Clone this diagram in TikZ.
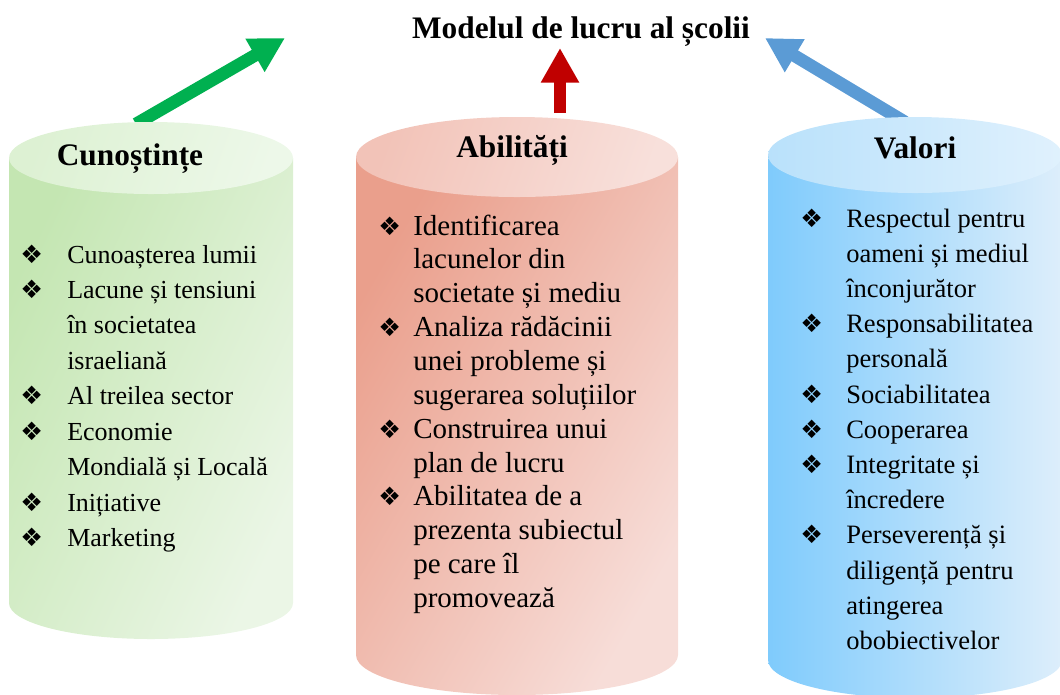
\documentclass[tikz,border=0pt]{standalone}
\usepackage{fontspec}
\setmainfont{Liberation Serif}
\newfontfamily\symfont{DejaVu Sans}
\usetikzlibrary{arrows.meta}

\definecolor{cunBodyL}{HTML}{C4E6B2}
\definecolor{cunBodyR}{HTML}{EBF6E6}
\definecolor{cunTopL}{HTML}{DDF1D3}
\definecolor{cunTopR}{HTML}{EDF8E9}
\definecolor{abiBodyL}{HTML}{EA9F8C}
\definecolor{abiBodyR}{HTML}{F7DDD8}
\definecolor{abiTopL}{HTML}{F2C3B8}
\definecolor{abiTopR}{HTML}{F8E0DB}
\definecolor{valBodyL}{HTML}{7FCBFC}
\definecolor{valBodyR}{HTML}{DDEEFB}
\definecolor{valTopL}{HTML}{B9E1FB}
\definecolor{valTopR}{HTML}{E0F1FD}
\definecolor{arrGreen}{HTML}{00B050}
\definecolor{arrRed}{HTML}{C00000}
\definecolor{arrBlue}{HTML}{5B9BD5}

\newcommand{\itm}[1]{\makebox[#1][l]{\symfont\fontsize{19}{19}\selectfont ❖}}
\newcommand{\cnt}[1]{\hspace*{#1}}

\begin{document}
\begin{tikzpicture}[x=0.75pt,y=0.75pt,yscale=-1,
  heading/.style={font=\bfseries\fontsize{23.5}{27}\selectfont, inner sep=0, anchor=base},
  listbox/.style={inner sep=0, anchor=base west},
  fatarrow/.style={line width=9.5pt, -{Triangle[length=26pt,width=27pt]}}]
\useasboundingbox (0,0) rectangle (1060,694);

% Arrows to the title
\coordinate (cunTop) at (136,124);
\coordinate (cunTip) at (285,38);
\coordinate (abiTop) at (560,113);
\coordinate (abiTip) at (560,48);
\coordinate (valTop) at (905,122);
\coordinate (valTip) at (765,38);
\draw[fatarrow, arrGreen] (cunTop) -- (cunTip);
\draw[fatarrow, arrRed] (abiTop) -- (abiTip);
\draw[fatarrow, arrBlue] (valTop) -- (valTip);

%Shape: Cylinder [Cunostinte]
\shade[left color=cunBodyL, right color=cunBodyR, shading angle=65] (9,158) -- (9,603) arc[start angle=180, end angle=0, x radius=142, y radius=36] -- (293,158) -- cycle;
\shade[left color=cunTopL, right color=cunTopR, shading angle=70] (151,158) ellipse [x radius=142, y radius=36];
%Shape: Cylinder [Abilitati]
\shade[left color=abiBodyL, right color=abiBodyR, shading angle=60] (356,157) -- (356,655) arc[start angle=180, end angle=0, x radius=161, y radius=40] -- (678,157) -- cycle;
\shade[left color=abiTopL, right color=abiTopR, shading angle=70] (517,157) ellipse [x radius=161, y radius=40];
%Shape: Cylinder [Valori]
\shade[left color=valBodyL, right color=valBodyR] (768,155) -- (768,660) arc[start angle=180, end angle=0, x radius=147, y radius=38] -- (1062,155) -- cycle;
\shade[left color=valTopL, right color=valTopR] (915,155) ellipse [x radius=147, y radius=38];

% Text Node
\node[font=\bfseries\fontsize{23.5}{27}\selectfont, inner sep=0, anchor=base] (title) at (581,38) {Modelul de lucru al școlii};
% Text Node
\node[heading] (cunHead) at (130,165) {Cunoștințe};
% Text Node
\node[heading] (abiHead) at (512,157) {Abilități};
% Text Node
\node[heading] (valHead) at (915,158) {Valori};

% Text Node
\node[listbox, font=\fontsize{19.5}{26.6}\selectfont] (cunList) at (20,263) {\begin{tabular}[t]{@{}l@{}}
\itm{35.25pt}Cunoașterea lumii\\
\itm{35.25pt}Lacune și tensiuni\\
\cnt{35.25pt}în societatea\\
\cnt{35.25pt}israeliană\\
\itm{35.25pt}Al treilea sector\\
\itm{35.25pt}Economie\\
\cnt{35.25pt}Mondială și Locală\\
\itm{35.25pt}Inițiative\\
\itm{35.25pt}Marketing
\end{tabular}};
% Text Node
\node[listbox, font=\fontsize{21.75}{25.4}\selectfont] (abiList) at (378,235) {\begin{tabular}[t]{@{}l@{}}
\itm{26.25pt}Identificarea\\
\cnt{26.25pt}lacunelor din\\
\cnt{26.25pt}societate și mediu\\
\itm{26.25pt}Analiza rădăcinii\\
\cnt{26.25pt}unei probleme și\\
\cnt{26.25pt}sugerarea soluțiilor\\
\itm{26.25pt}Construirea unui\\
\cnt{26.25pt}plan de lucru\\
\itm{26.25pt}Abilitatea de a\\
\cnt{26.25pt}prezenta subiectul\\
\cnt{26.25pt}pe care îl\\
\cnt{26.25pt}promovează
\end{tabular}};
% Text Node
\node[listbox, font=\fontsize{19.9}{26.4}\selectfont] (valList) at (800,227) {\begin{tabular}[t]{@{}l@{}}
\itm{34.5pt}Respectul pentru\\
\cnt{34.5pt}oameni și mediul\\
\cnt{34.5pt}înconjurător\\
\itm{34.5pt}Responsabilitatea\\
\cnt{34.5pt}personală\\
\itm{34.5pt}Sociabilitatea\\
\itm{34.5pt}Cooperarea\\
\itm{34.5pt}Integritate și\\
\cnt{34.5pt}încredere\\
\itm{34.5pt}Perseverență și\\
\cnt{34.5pt}diligență pentru\\
\cnt{34.5pt}atingerea\\
\cnt{34.5pt}obobiectivelor
\end{tabular}};

\end{tikzpicture}
\end{document}
